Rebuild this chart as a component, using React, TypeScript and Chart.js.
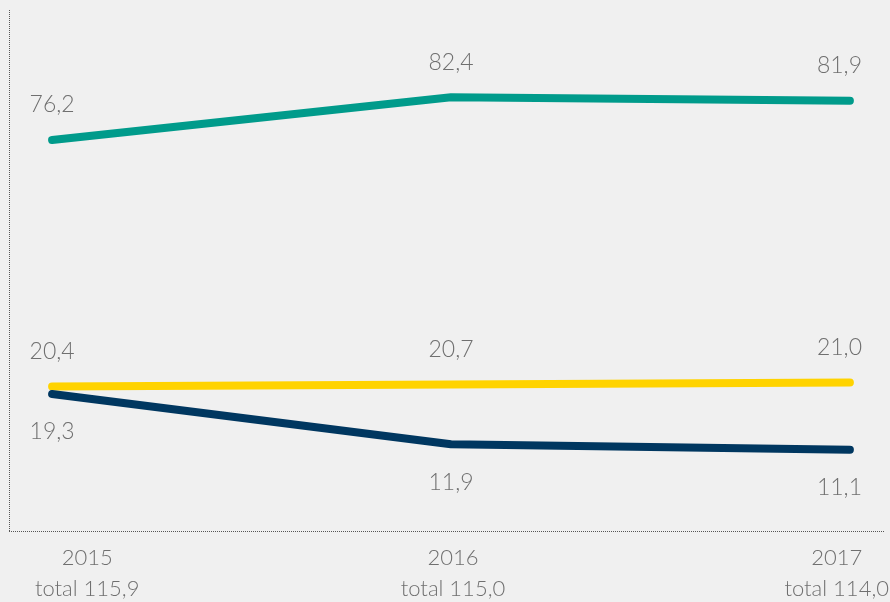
import React, { useEffect, useRef } from 'react';
import { Chart, registerables } from 'chart.js';

Chart.register(...registerables);

const years = [2015, 2016, 2017];
const totals = ['total 115,9', 'total 115,0', 'total 114,0'];
const tealValues = [76.2, 82.4, 81.9];
const yellowValues = [20.4, 20.7, 21.0];
const navyValues = [19.3, 11.9, 11.1];

const fmt = (v: number) => v.toFixed(1).replace('.', ',');
const FONT = 'Lato';
const TEXT = '#6f6f6f';

export default function App() {
  const ref = useRef<HTMLCanvasElement>(null);

  useEffect(() => {
    if (!ref.current) return;
    const labelShift = [0.088, 0.005, -0.033];

    const dottedAxes = {
      id: 'dottedAxes',
      beforeDatasetsDraw(chart: any) {
        const { ctx, chartArea } = chart;
        const { left, right, top, bottom } = chartArea;
        ctx.save();
        ctx.strokeStyle = '#555555';
        ctx.lineWidth = 1;
        ctx.setLineDash([1, 1]);
        ctx.beginPath();
        ctx.moveTo(left + 0.5, top);
        ctx.lineTo(left + 0.5, bottom + 1);
        ctx.moveTo(left, bottom + 0.5);
        ctx.lineTo(right, bottom + 0.5);
        ctx.stroke();
        ctx.restore();
      },
    };

    const valueLabels = {
      id: 'valueLabels',
      afterDatasetsDraw(chart: any) {
        const { ctx, chartArea } = chart;
        ctx.save();
        ctx.font = `300 23px ${FONT}`;
        ctx.fillStyle = TEXT;
        ctx.textAlign = 'center';
        ctx.textBaseline = 'middle';
        chart.data.datasets.forEach((ds: any, di: number) => {
          const meta = chart.getDatasetMeta(di);
          const below = ds.labelPos === 'below';
          meta.data.forEach((pt: any, i: number) => {
            const txt = fmt(ds.data[i].y);
            const w = ctx.measureText(txt).width;
            const x = Math.min(pt.x, chartArea.right - 23 - w / 2);
            const y = pt.y + (below ? 38 : -35);
            ctx.fillText(txt, x, y);
          });
        });
        ctx.restore();
      },
    };

    const toPts = (vals: number[]) => years.map((x, i) => ({ x, y: vals[i] }));

    const chart = new Chart(ref.current, {
      type: 'line',
      data: {
        datasets: [
          {
            label: 'teal',
            data: toPts(tealValues),
            borderColor: '#009b8b',
            borderWidth: 8,
            borderCapStyle: 'round',
            borderJoinStyle: 'round',
            pointRadius: 0,
            yAxisID: 'y1',
            labelPos: 'above',
          } as any,
          {
            label: 'navy',
            data: toPts(navyValues),
            borderColor: '#003760',
            borderWidth: 8,
            borderCapStyle: 'round',
            borderJoinStyle: 'round',
            pointRadius: 0,
            yAxisID: 'y',
            labelPos: 'below',
          } as any,
          {
            label: 'yellow',
            data: toPts(yellowValues),
            borderColor: '#ffd300',
            borderWidth: 8,
            borderCapStyle: 'round',
            borderJoinStyle: 'round',
            pointRadius: 0,
            yAxisID: 'y',
            labelPos: 'above',
          } as any,
        ],
      },
      options: {
        animation: false,
        responsive: false,
        devicePixelRatio: 1,
        layout: { padding: { left: 9, right: 5, top: 10, bottom: 0 } },
        plugins: {
          legend: { display: false },
          tooltip: { enabled: false },
        },
        scales: {
          x: {
            type: 'linear',
            min: 2014.892,
            max: 2017.088,
            grid: { display: false, drawTicks: false },
            border: { display: false },
            afterBuildTicks: (s: any) => {
              s.ticks = years.map((y, i) => ({ value: y + labelShift[i] }));
            },
            ticks: {
              autoSkip: false,
              maxRotation: 0,
              padding: 11,
              color: TEXT,
              font: { family: FONT, size: 22, weight: '300', lineHeight: 1.43 },
              callback: (_v: any, i: number) => [String(years[i]), totals[i]],
            },
            afterFit: (s: any) => {
              s.height = 71;
              s.paddingLeft = 0;
              s.paddingRight = 0;
            },
          } as any,
          y: {
            position: 'left',
            min: -0.85,
            max: 75.77,
            grid: { display: false, drawTicks: false },
            border: { display: false },
            ticks: { display: false },
            afterFit: (s: any) => {
              s.width = 0;
            },
          } as any,
          y1: {
            display: false,
            min: 19.53,
            max: 95.04,
          },
        },
      },
      plugins: [dottedAxes, valueLabels],
    });

    return () => chart.destroy();
  }, []);

  return (
    <div
      style={{
        position: 'absolute',
        left: 0,
        top: 0,
        width: 890,
        height: 602,
        background: '#f0f0f0',
      }}
    >
      <canvas ref={ref} width={890} height={602} style={{ display: 'block' }} />
    </div>
  );
}
